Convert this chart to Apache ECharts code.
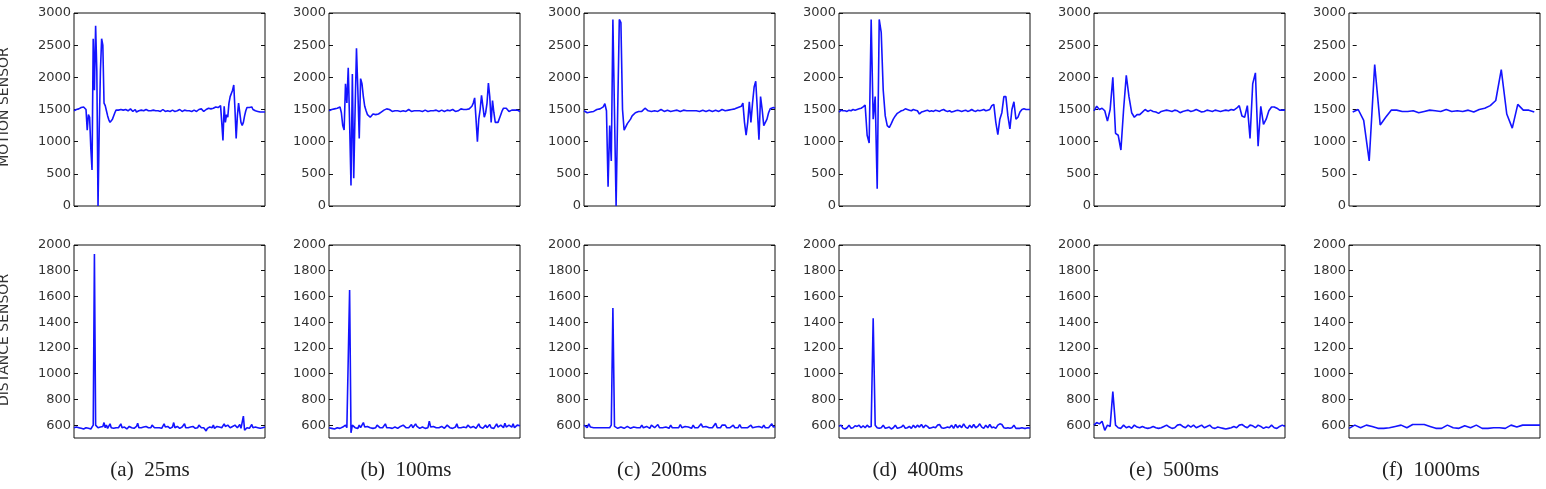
<!DOCTYPE html>
<html>
<head>
<meta charset="utf-8">
<script src="https://cdn.jsdelivr.net/npm/echarts@6/dist/echarts.min.js"></script>
<style>
  html, body { margin: 0; padding: 0; background: #fff; }
  #chart { width: 1546px; height: 489px; }
</style>
</head>
<body>
<div id="chart"></div>
<script>
// captions and axis ticks
const captions = ['(a)  25ms', '(b)  100ms', '(c)  200ms', '(d)  400ms', '(e)  500ms', '(f)  1000ms'];
const rowNames = ['MOTION SENSOR', 'DISTANCE SENSOR'];
const distanceTicks = [600, 800, 1000, 1200, 1400, 1600, 1800, 2000];

// motion sensor readings (top row)
const motion25 = [
  1480, 1490, 1500, 1500, 1510, 1520, 1530, 1540, 1540, 1540,
  1500, 1180, 1420, 1380, 900, 560, 2600, 1800, 2800, 2100,
  0, 1200, 2100, 2600, 2500, 1600, 1560, 1480, 1400, 1340,
  1300, 1310, 1350, 1400, 1450, 1490, 1500, 1490, 1480, 1500,
  1470, 1490, 1480, 1500, 1470, 1480, 1490, 1510, 1480, 1470,
  1490, 1500, 1460, 1450, 1480, 1500, 1490, 1470, 1480, 1490,
  1500, 1470, 1480, 1490, 1480, 1470, 1490, 1500, 1480, 1470,
  1480, 1490, 1470, 1480, 1500, 1490, 1470, 1460, 1480, 1490,
  1470, 1480, 1490, 1480, 1470, 1470, 1480, 1490, 1500, 1480,
  1470, 1480, 1490, 1470, 1480, 1500, 1480, 1490, 1470, 1480,
  1490, 1460, 1470, 1490, 1500, 1480, 1510, 1490, 1470, 1480,
  1500, 1490, 1520, 1500, 1510, 1530, 1520, 1500, 1540, 1550,
  1530, 1550, 1560, 1300, 1020, 1550, 1300, 1420, 1380, 1600,
  1700, 1720, 1800, 1880, 1500, 1050, 1400, 1600, 1450, 1300,
  1250, 1300, 1400, 1480, 1530, 1550, 1530, 1520, 1540, 1500,
  1490, 1480, 1500, 1470, 1480, 1460, 1470, 1460, 1470, 1460
];
const motion100 = [
  1480, 1490, 1500, 1500, 1510, 1510, 1520, 1520, 1540, 1450,
  1250, 1180, 1900, 1600, 2150, 1300, 320, 2050, 430, 1500,
  2450, 1800, 1050, 1980, 1900, 1700, 1550, 1480, 1420, 1390,
  1380, 1400, 1430, 1430, 1420, 1440, 1430, 1450, 1460, 1480,
  1490, 1500, 1510, 1530, 1500, 1480, 1470, 1490, 1480, 1470,
  1480, 1490, 1470, 1460, 1480, 1490, 1470, 1480, 1500, 1480,
  1470, 1460, 1480, 1490, 1480, 1470, 1480, 1490, 1470, 1480,
  1490, 1480, 1470, 1460, 1480, 1490, 1480, 1470, 1490, 1480,
  1470, 1480, 1490, 1480, 1470, 1480, 1490, 1470, 1480, 1490,
  1500, 1480, 1470, 1490, 1480, 1500, 1510, 1490, 1500, 1520,
  1500, 1520, 1510, 1540, 1550, 1600, 1680, 1350, 1000, 1350,
  1500, 1720, 1550, 1380, 1450, 1600, 1910, 1700, 1300, 1640,
  1450, 1300, 1270, 1300, 1360, 1420, 1480, 1520, 1540, 1520,
  1500, 1470, 1460, 1490, 1500, 1490, 1480, 1490, 1480, 1470
];
const motion200 = [
  1480, 1460, 1450, 1470, 1460, 1480, 1470, 1490, 1500, 1500,
  1510, 1530, 1540, 1590, 1480, 300, 1250, 700, 2900, 2880,
  0, 1500, 2900, 2850, 1500, 1180, 1230, 1280, 1300, 1350,
  1400, 1430, 1450, 1460, 1470, 1480, 1470, 1500, 1520, 1500,
  1480, 1490, 1470, 1500, 1480, 1490, 1470, 1480, 1500, 1490,
  1470, 1480, 1490, 1480, 1470, 1500, 1480, 1470, 1490, 1480,
  1470, 1480, 1490, 1500, 1480, 1470, 1480, 1490, 1480, 1470,
  1480, 1460, 1470, 1480, 1490, 1480, 1470, 1500, 1490, 1480,
  1470, 1480, 1490, 1480, 1470, 1480, 1500, 1490, 1480, 1470,
  1490, 1480, 1500, 1490, 1510, 1520, 1530, 1540, 1550, 1600,
  1300, 1100, 1300, 1620, 1300, 1600, 1850, 1940, 1500, 1030,
  1700, 1500, 1250, 1280, 1350, 1450, 1510, 1540, 1530, 1520
];
const motion400 = [
  1460, 1490, 1480, 1480, 1470, 1490, 1480, 1500, 1490, 1500,
  1510, 1520, 1540, 1570, 1100, 980, 2900, 1350, 1700, 270,
  2900, 2700, 1800, 1400, 1250, 1220, 1280, 1350, 1400, 1440,
  1460, 1480, 1490, 1510, 1500, 1490, 1480, 1500, 1490, 1480,
  1430, 1460, 1470, 1480, 1490, 1470, 1480, 1470, 1490, 1480,
  1470, 1490, 1500, 1480, 1470, 1480, 1460, 1470, 1480, 1490,
  1480, 1470, 1480, 1490, 1470, 1480, 1500, 1480, 1470, 1490,
  1480, 1490, 1500, 1480, 1490, 1500, 1560, 1580, 1300, 1110,
  1350, 1450, 1700, 1700, 1400, 1200, 1500, 1620, 1350, 1380,
  1460, 1500, 1510, 1500, 1500, 1500
];
const motion500 = [
  1480, 1550, 1500, 1520, 1480, 1320, 1500, 2000, 1130, 1100,
  870, 1500, 2030, 1700, 1450, 1380, 1420, 1420, 1460, 1500,
  1470, 1490, 1470, 1460, 1440, 1470, 1480, 1490, 1480, 1470,
  1490, 1480, 1450, 1470, 1480, 1490, 1470, 1480, 1500, 1480,
  1460, 1470, 1490, 1480, 1470, 1490, 1480, 1470, 1480, 1490,
  1480, 1500, 1490, 1520, 1560, 1400, 1380, 1560, 1050, 1900,
  2070, 930, 1550, 1270, 1350, 1480, 1540, 1540, 1520, 1490,
  1490, 1490
];
const motion1000 = [
  1460, 1500, 1330, 700, 2200, 1260, 1380, 1490, 1490, 1470,
  1470, 1480, 1450, 1470, 1490, 1480, 1470, 1500, 1470, 1480,
  1470, 1490, 1460, 1500, 1520, 1560, 1640, 2120, 1430, 1210,
  1580, 1490, 1490, 1460
];

// distance sensor readings (bottom row)
const distance25 = [
  580, 575, 585, 570, 580, 590, 575, 580, 570, 585,
  580, 590, 575, 580, 570, 585, 600, 1930, 600, 590,
  580, 575, 585, 580, 590, 620, 580, 600, 575, 590,
  610, 580, 585, 575, 590, 580, 570, 580, 590, 610,
  580, 575, 585, 580, 570, 580, 590, 575, 580, 585,
  575, 580, 590, 615, 580, 575, 580, 570, 585, 580,
  590, 575, 580, 585, 580, 600, 590, 580, 575, 580,
  585, 580, 570, 575, 580, 610, 585, 580, 590, 580,
  575, 580, 585, 620, 580, 575, 590, 580, 575, 580,
  585, 590, 610, 580, 575, 580, 570, 585, 580, 590,
  580, 575, 585, 580, 600, 590, 580, 575, 580, 570,
  555, 575, 580, 585, 590, 580, 600, 575, 580, 590,
  580, 585, 600, 580, 575, 610, 590, 580, 600, 585,
  580, 575, 590, 580, 600, 585, 580, 590, 605, 575,
  590, 670, 560, 545, 580, 585, 575, 580, 605, 580,
  590, 585, 600, 580, 590, 575, 585, 580, 590, 585
];
const distance100 = [
  580, 590, 575, 580, 570, 585, 580, 590, 575, 580,
  585, 575, 600, 580, 595, 1650, 540, 600, 590, 580,
  585, 575, 600, 580, 575, 620, 585, 580, 590, 575,
  580, 585, 575, 570, 580, 600, 590, 580, 575, 580,
  585, 610, 580, 575, 580, 590, 575, 580, 585, 580,
  575, 580, 590, 580, 600, 585, 580, 575, 580, 590,
  605, 580, 585, 610, 590, 580, 575, 580, 585, 580,
  575, 590, 580, 630, 585, 580, 590, 575, 580, 585,
  580, 575, 590, 580, 575, 580, 600, 585, 580, 590,
  575, 580, 585, 610, 580, 575, 580, 590, 585, 575,
  580, 600, 585, 580, 575, 590, 580, 575, 580, 610,
  585, 580, 575, 590, 600, 580, 575, 605, 580, 590,
  575, 580, 610, 585, 580, 600, 590, 580, 615, 585,
  580, 600, 590, 585, 610, 580, 590, 600, 585, 595
];
const distance200 = [
  600, 590, 580, 610, 585, 575, 580, 590, 580, 575,
  580, 585, 580, 575, 580, 585, 580, 600, 1510, 590,
  580, 575, 580, 585, 580, 575, 580, 590, 580, 575,
  580, 585, 590, 580, 575, 580, 600, 580, 575, 590,
  580, 575, 600, 585, 580, 590, 605, 580, 575, 580,
  590, 585, 580, 575, 600, 580, 575, 580, 585, 580,
  605, 580, 575, 590, 580, 585, 580, 575, 600, 580,
  590, 580, 575, 610, 585, 580, 590, 600, 580, 575,
  580, 590, 615, 580, 575, 580, 600, 585, 600, 580,
  575, 580, 585, 600, 580, 575, 580, 605, 580, 575,
  580, 590, 580, 575, 600, 580, 575, 585, 580, 590,
  575, 580, 600, 580, 575, 580, 590, 610, 585, 590
];
const distance400 = [
  590, 600, 575, 570, 580, 600, 575, 580, 595, 590,
  600, 580, 595, 580, 600, 585, 590, 1430, 600, 580,
  575, 580, 600, 575, 580, 585, 570, 580, 600, 575,
  580, 585, 600, 575, 580, 590, 575, 600, 580, 600,
  585, 605, 580, 600, 590, 575, 580, 585, 580, 600,
  605, 580, 575, 580, 585, 580, 600, 575, 605, 580,
  600, 580, 610, 585, 575, 600, 580, 605, 580, 590,
  610, 585, 575, 600, 580, 605, 580, 585, 575, 600,
  610, 605, 580, 575, 580, 575, 580, 600, 575, 575,
  575, 580, 575, 575, 580, 575
];
const distance500 = [
  600, 620, 610, 630, 560, 600, 590, 860, 600, 580,
  575, 600, 580, 590, 575, 600, 585, 580, 590, 580,
  575, 580, 590, 580, 575, 580, 590, 600, 585, 575,
  580, 600, 605, 590, 580, 600, 585, 600, 580, 590,
  600, 580, 590, 600, 580, 575, 585, 580, 575, 570,
  575, 580, 590, 580, 600, 605, 590, 580, 600, 595,
  580, 600, 590, 575, 585, 580, 600, 580, 575, 590,
  600, 590
];
const distance1000 = [
  575, 600, 580, 600, 590, 575, 575, 580, 590, 600,
  580, 605, 605, 605, 590, 575, 575, 600, 580, 575,
  595, 580, 600, 575, 575, 580, 580, 575, 600, 585,
  600, 600, 600, 600
];

const motionRows = [motion25, motion100, motion200, motion400, motion500, motion1000];
const distanceRows = [distance25, distance100, distance200, distance400, distance500, distance1000];

// layout
const gridLefts = [74, 329, 584, 839, 1094, 1349];
const gridWidth = 191;
const rowTops = [13, 245];
const rowHeight = 193;
const captionCenters = [150, 406, 662, 918, 1174, 1431];
const frameColor = '#111';
const labelFont = 'DejaVu Sans, sans-serif';

const grids = [];
const xAxes = [];
const yAxes = [];
const series = [];

function addPanel(row, col, values) {
  const idx = grids.length;
  grids.push({
    left: gridLefts[col], top: rowTops[row], width: gridWidth, height: rowHeight,
    show: true, borderColor: frameColor, borderWidth: 1, backgroundColor: 'transparent'
  });
  // 1000ms motion trace leaves a little space at both ends
  const padL = (row === 0 && col === 5) ? 0.67 : 0;
  const padR = (row === 0 && col === 5) ? 1.04 : 0;
  xAxes.push({
    gridIndex: idx, type: 'value', min: -padL, max: values.length - 1 + padR,
    axisLine: { show: false }, axisTick: { show: false },
    axisLabel: { show: false }, splitLine: { show: false }
  });
  const base = {
    gridIndex: idx, type: 'value',
    axisLine: { show: false },
    splitLine: { show: false }
  };
  let range;
  if (row === 0) {
    range = { min: 0, max: 3000, interval: 500 };
  } else {
    range = { min: 500, max: 2000 };
  }
  const tickStyle = { show: true, inside: true, length: 4, lineStyle: { color: frameColor, width: 1 } };
  const leftTick = Object.assign({}, tickStyle);
  const rightTick = Object.assign({}, tickStyle);
  const leftLabel = {
    show: true, color: '#333', fontSize: 13, fontFamily: labelFont, margin: 3,
    formatter: v => String(v)
  };
  if (row === 1) {
    leftTick.customValues = distanceTicks;
    rightTick.customValues = distanceTicks;
    leftLabel.customValues = distanceTicks;
  }
  yAxes.push(Object.assign({}, base, range, { position: 'left', axisTick: leftTick, axisLabel: leftLabel }));
  yAxes.push(Object.assign({}, base, range, { position: 'right', axisTick: rightTick, axisLabel: { show: false } }));
  series.push({
    type: 'line',
    xAxisIndex: idx,
    yAxisIndex: idx * 2,
    data: values.map((v, i) => [i, v]),
    symbol: 'none',
    lineStyle: { color: '#1414ff', width: 1.6 },
    silent: true
  });
}

motionRows.forEach((vals, c) => addPanel(0, c, vals));
distanceRows.forEach((vals, c) => addPanel(1, c, vals));

const graphics = captions.map((t, i) => ({
  type: 'text',
  x: captionCenters[i],
  y: 470,
  style: {
    text: t, align: 'center', verticalAlign: 'middle',
    font: '21px "Liberation Serif", serif', fill: '#222'
  }
}));
rowNames.forEach((t, i) => {
  graphics.push({
    type: 'text',
    x: 4,
    y: i === 0 ? 107 : 340,
    rotation: Math.PI / 2,
    style: {
      text: t, align: 'center', verticalAlign: 'middle',
      font: '14px "DejaVu Sans", sans-serif', fill: '#333'
    }
  });
});

const chart = echarts.init(document.getElementById('chart'));
chart.setOption({
  animation: false,
  backgroundColor: '#fff',
  grid: grids,
  xAxis: xAxes,
  yAxis: yAxes,
  series: series,
  graphic: graphics
});
</script>
</body>
</html>
